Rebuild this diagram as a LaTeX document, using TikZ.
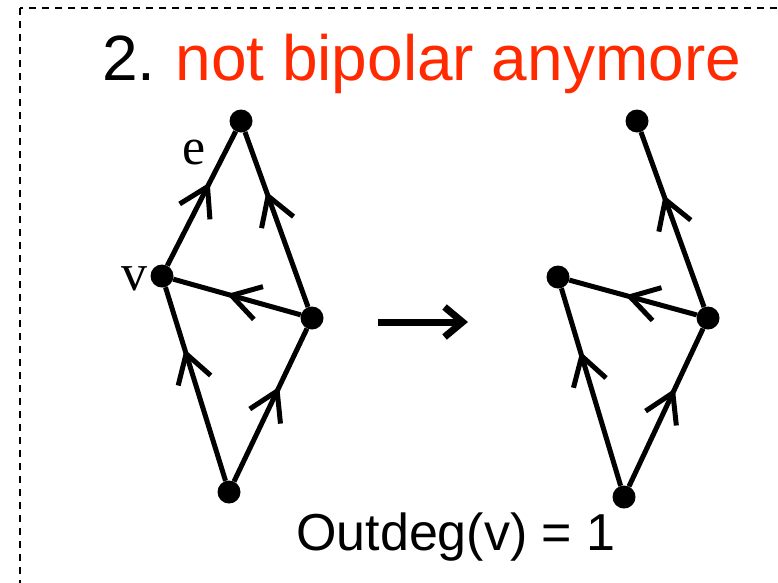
\documentclass[tikz,border=0pt]{standalone}
\usepackage{fontspec}
\setmainfont{Liberation Sans}
\newfontfamily\graphfont{Liberation Serif}
\usepackage{xcolor}
\definecolor{TitleRed}{HTML}{FF2A00}
\usepackage{tikz}
\usetikzlibrary{arrows.meta,positioning,decorations.markings}

\begin{document}
\begin{tikzpicture}[
  x=1pt, y=-1pt,
  dot/.style={circle, fill=black, inner sep=0pt, minimum size=23pt},
  lbl/.style={inner sep=0pt, font=\graphfont\fontsize{52}{52}\selectfont},
  barb/.tip={Straight Barb[length=28pt, width=34pt]},
  edge/.style={line width=5pt},
  flowmark/.style={postaction={decorate, decoration={markings,
      mark=at position #1 with {\arrow{barb}}}}},
]
\useasboundingbox (0,0) rectangle (778,582);
\clip (0,0) rectangle (778,582);
\draw[line width=1.8pt, dash pattern=on 7pt off 6pt] (20,8) rectangle (820,620);

% title
\node[anchor=base west, inner sep=0pt, font=\fontsize{64}{64}\selectfont] (title) at (102,80)
  {2.\hspace{0.31em}\textcolor{TitleRed}{not bipolar anymore}};

% left graph
\node[dot] (lt) at (241,121) {};
\node[dot] (lv) at (162,276) {};
\node[dot] (lr) at (312,318) {};
\node[dot] (lb) at (229,492) {};
\node[lbl] (elbl) at (194,152) {e};
\node[lbl, left=3pt of lv, yshift=-3pt] (vlbl) {v};
\draw[edge, flowmark=0.62] (lv) -- (lt);
\draw[edge, flowmark=0.66] (lr) -- (lt);
\draw[edge, flowmark=0.58] (lr) -- (lv);
\draw[edge, flowmark=0.68] (lb) -- (lv);
\draw[edge, flowmark=0.62] (lb) -- (lr);

% transition arrow
\coordinate (from) at (378,322);
\coordinate (to) at (468,322);
\draw[line width=7pt, -{Straight Barb[length=18pt, width=30pt]}] (from) -- (to);

% right graph
\node[dot] (rt) at (637,121) {};
\node[dot] (rl) at (558,277) {};
\node[dot] (rr) at (708,318) {};
\node[dot] (rb) at (624,497) {};
\draw[edge, flowmark=0.64] (rr) -- (rt);
\draw[edge, flowmark=0.56] (rr) -- (rl);
\draw[edge, flowmark=0.68] (rb) -- (rl);
\draw[edge, flowmark=0.62] (rb) -- (rr);

\node[anchor=base, inner sep=0pt, font=\fontsize{52}{52}\selectfont] (outdeg) at (456,550)
  {Outdeg(v) = 1};
\end{tikzpicture}
\end{document}
